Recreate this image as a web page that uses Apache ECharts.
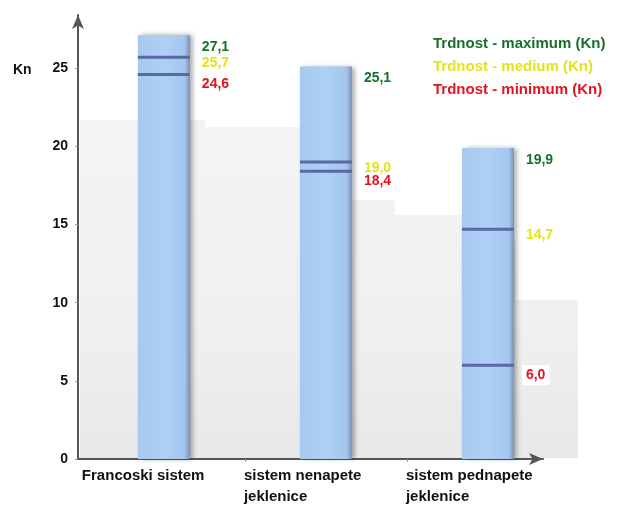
<!DOCTYPE html>
<html>
<head>
<meta charset="utf-8">
<script src="https://cdn.jsdelivr.net/npm/echarts@6/dist/echarts.min.js"></script>
<style>
html,body{margin:0;padding:0;background:#fff;}
#c{width:617px;height:507px;}
</style>
</head>
<body>
<div id="c"></div>
<script>
const categories = ['Francoski sistem', 'sistem nenapete\njeklenice', 'sistem pednapete\njeklenice'];
const maxValues = [27.1, 25.1, 19.9];
const mediumValues = [25.7, 19.0, 14.7];
const minValues = [24.6, 18.4, 6.0];
const yTicks = [0, 5, 10, 15, 20, 25];
const seriesNames = ['Trdnost - maximum (Kn)', 'Trdnost - medium (Kn)', 'Trdnost - minimum (Kn)'];

const FONT = '"Liberation Sans", Arial, sans-serif';
const fmt = p => p.value[1].toFixed(1).replace('.', ',');
const toPts = arr => arr.map((v, i) => [i, v]);

const chart = echarts.init(document.getElementById('c'));
chart.setOption({
  backgroundColor: '#fff',
  animation: false,
  textStyle: { fontFamily: FONT },
  graphic: [{
    type: 'polygon', z: -10, silent: true,
    shape: { points: [[80,120],[205,120],[205,127],[300,127],[350,150],[352,200],[395,200],[395,215],[462,215],[516,240],[516,300],[578,300],[578,458],[80,458]] },
    style: { fill: new echarts.graphic.LinearGradient(0, 0, 0, 1, [{offset:0,color:'#f4f4f4'},{offset:0.6,color:'#f0f0f0'},{offset:1,color:'#e8e8e8'}]) }
  }, {
    type: 'text', left: 13, top: 63,
    style: { text: 'Kn', font: 'bold 14px ' + FONT, fill: '#111' }
  }],
  legend: {
    orient: 'vertical', left: 423, top: 31, itemGap: 8,
    itemWidth: 0, itemHeight: 0, icon: 'rect',
    selectedMode: false,
    data: [
      { name: seriesNames[0], textStyle: { color: '#17702a' } },
      { name: seriesNames[1], textStyle: { color: '#e3e31c' } },
      { name: seriesNames[2], textStyle: { color: '#e3141e' } }
    ],
    textStyle: { fontWeight: 'bold', fontSize: 15, fontFamily: FONT }
  },
  grid: { left: 78, right: 74, top: 15, bottom: 47 },
  xAxis: {
    type: 'value', min: -0.53, max: 2.34,
    splitLine: { show: false },
    axisLine: { show: true, onZero: false, lineStyle: { color: '#555', width: 2 }, symbol: ['none', 'arrow'], symbolSize: [9, 14] },
    axisTick: { show: true, length: 3, customValues: [0.5, 1.5], lineStyle: { color: '#999' } },
    axisLabel: {
      customValues: [0, 1, 2],
      formatter: v => categories[Math.round(v)],
      align: 'left', padding: [0, 0, 0, -82],
      color: '#111', fontWeight: 'bold', fontSize: 15, lineHeight: 21, margin: 6
    }
  },
  yAxis: {
    type: 'value', min: 0, max: 28.4,
    splitLine: { show: false },
    axisLine: { show: true, onZero: false, lineStyle: { color: '#555', width: 2 }, symbol: ['none', 'arrow'], symbolSize: [9, 14] },
    axisTick: { show: true, length: 3, customValues: yTicks, lineStyle: { color: '#999' } },
    axisLabel: { customValues: yTicks, color: '#111', fontWeight: 'bold', fontSize: 14, margin: 10 }
  },
  series: [
    {
      type: 'bar', silent: true, barWidth: 52, data: toPts(maxValues), z: 2,
      itemStyle: {
        color: new echarts.graphic.LinearGradient(0, 0, 1, 0, [{offset:0,color:'#a6c9f0'},{offset:0.5,color:'#afd0f5'},{offset:0.9,color:'#a2c6ee'},{offset:1,color:'#7f8fb0'}]),
        shadowColor: 'rgba(0,0,0,0.35)', shadowBlur: 5, shadowOffsetX: 3
      }
    },
    {
      name: seriesNames[0], type: 'scatter', symbol: 'rect', symbolSize: [52, 1], z: 5, silent: true,
      data: toPts(maxValues),
      itemStyle: { color: '#17702a', opacity: 0 },
      label: { show: true, opacity: 1, position: 'right', distance: 12, offset: [0, 12], formatter: fmt, color: '#17702a', fontWeight: 'bold', fontSize: 14 }
    },
    {
      name: seriesNames[1], type: 'scatter', symbol: 'rect', symbolSize: [52, 3], z: 6, silent: true,
      data: toPts(mediumValues),
      itemStyle: { color: '#5b67a6', opacity: 1 },
      label: { show: true, opacity: 1, position: 'right', distance: 8, offset: [0, 6], formatter: fmt, color: '#e3e31c', fontWeight: 'bold', fontSize: 14, backgroundColor: '#fff', padding: [0, 4] }
    },
    {
      name: seriesNames[2], type: 'scatter', symbol: 'rect', symbolSize: [52, 3], z: 5, silent: true,
      data: toPts(minValues),
      itemStyle: { color: '#5b67a6', opacity: 1 },
      label: { show: true, opacity: 1, position: 'right', distance: 8, offset: [0, 10], formatter: fmt, color: '#e3141e', fontWeight: 'bold', fontSize: 14, backgroundColor: '#fff', padding: [3, 4] }
    }
  ]
});
</script>
</body>
</html>
